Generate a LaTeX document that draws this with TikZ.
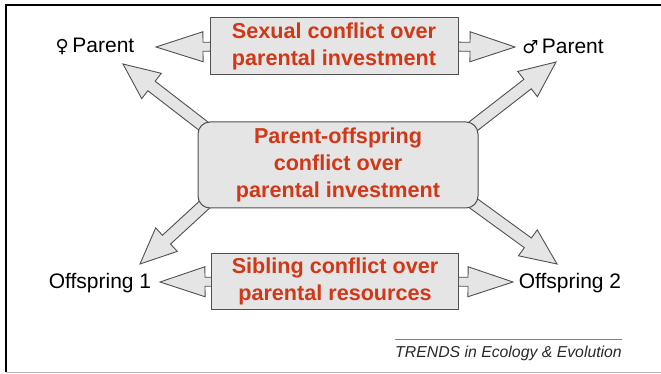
\documentclass[tikz,border=0pt]{standalone}
\usepackage{fontspec}
\setmainfont{Liberation Sans}
\newfontfamily\symfont{DejaVu Sans}
\usetikzlibrary{calc,backgrounds}
\definecolor{redtxt}{RGB}{208,56,24}
\definecolor{boxfill}{RGB}{229,229,229}
\definecolor{edgegray}{RGB}{80,80,80}
\definecolor{trendgray}{RGB}{40,40,40}

\newcommand{\blockarrow}[6]{% #1 prefix, #2 from, #3 to, #4 shaft half, #5 head half, #6 head length
  \coordinate (#1b) at ($(#3)!#6!(#2)$);
  \draw[arrowshape] ($(#2)!#4!90:(#3)$) -- ($(#1b)!#4!-90:(#2)$) -- ($(#1b)!#5!-90:(#2)$)
    -- (#3) -- ($(#1b)!#5!90:(#2)$) -- ($(#1b)!#4!90:(#2)$) -- ($(#2)!#4!-90:(#3)$) -- cycle;
}

\begin{document}
\begin{tikzpicture}[x=1pt,y=-1pt,
  box/.style={draw=edgegray, line width=1pt, fill=boxfill, text=redtxt,
    font=\fontsize{21.6}{27}\selectfont\bfseries, align=center, inner sep=0pt},
  lbl/.style={font=\fontsize{21}{25}\selectfont, inner sep=0pt},
  arrowshape/.style={draw=edgegray, line width=0.9pt, fill=boxfill, line join=miter}]
\useasboundingbox (0,0) rectangle (661,374);

% frame
\draw[line width=1.6pt] (6,372) -- (6,5) -- (661,5);
\draw[gray!55, line width=1pt] (6,372) -- (661,372);

% labels
\node[lbl] (fem) at (95,46) {{\symfont\fontsize{18}{20}\selectfont ♀}\,Parent};
\node[lbl] (male) at (563,46) {{\symfont\fontsize{18}{20}\selectfont ♂}\,Parent};
\node[lbl] (off1) at (100,283) {Offspring 1};
\node[lbl] (off2) at (570,283) {Offspring 2};

% boxes
\node[box, minimum width=248pt, minimum height=57pt] (top) at (334,46)
  {Sexual conflict over\\parental investment};
\node[box, rounded corners=12pt, minimum width=280pt, minimum height=86pt] (mid) at (338,165)
  {Parent-offspring\\conflict over\\parental investment};
\node[box, minimum width=247pt, minimum height=56pt] (bot) at (335,281)
  {Sibling conflict over\\parental resources};

% arrow end points
\coordinate (tTL) at (156,47);
\coordinate (tTR) at (515,47);
\coordinate (tBL) at (160,282);
\coordinate (tBR) at (513,282);
\coordinate (tUL) at (123,64);
\coordinate (tUR) at (556,62);
\coordinate (tLL) at (140,264);
\coordinate (tLR) at (557,264);
\coordinate (sUL) at (215,135);
\coordinate (sUR) at (462,135);
\coordinate (sLL) at (215,195);
\coordinate (sLR) at (462,195);

\begin{pgfonlayer}{background}
  \blockarrow{a1}{top.center}{tTL}{4.5pt}{15pt}{47pt}
  \blockarrow{a2}{top.center}{tTR}{4.5pt}{15pt}{45pt}
  \blockarrow{a3}{bot.center}{tBL}{4.5pt}{15pt}{45pt}
  \blockarrow{a4}{bot.center}{tBR}{4.5pt}{15pt}{45pt}
  \blockarrow{a5}{sUL}{tUL}{6pt}{16pt}{36pt}
  \blockarrow{a6}{sUR}{tUR}{6pt}{16pt}{36pt}
  \blockarrow{a7}{sLL}{tLL}{6pt}{16pt}{36pt}
  \blockarrow{a8}{sLR}{tLR}{6pt}{16pt}{36pt}
\end{pgfonlayer}

% journal tag
\draw[gray, line width=0.8pt] (395,339) -- (622,339);
\node[font=\fontsize{15.8}{18}\selectfont\itshape, text=trendgray, anchor=east, inner sep=0pt]
  (trend) at (622,353) {TRENDS in Ecology \& Evolution};
\end{tikzpicture}
\end{document}
